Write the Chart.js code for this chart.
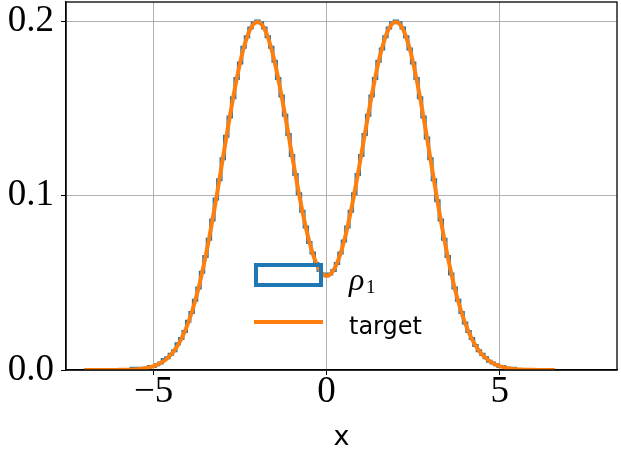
<!DOCTYPE html>
<html>
<head>
<meta charset="utf-8">
<script src="https://cdn.jsdelivr.net/npm/chart.js@4.4.1/dist/chart.umd.min.js"></script>
<style>
  html, body { margin: 0; padding: 0; background: #fff; }
  #wrap { width: 621px; height: 454px; }
</style>
</head>
<body>
<div id="wrap"><canvas id="chart" width="621" height="454"></canvas></div>
<script>
// sample positions along x (bin centres, 0.1 apart)
const xValues = [
  -7.0, -6.9, -6.8, -6.7, -6.6, -6.5, -6.4, -6.3, -6.2, -6.1,
  -6.0, -5.9, -5.8, -5.7, -5.6, -5.5, -5.4, -5.3, -5.2, -5.1,
  -5.0, -4.9, -4.8, -4.7, -4.6, -4.5, -4.4, -4.3, -4.2, -4.1,
  -4.0, -3.9, -3.8, -3.7, -3.6, -3.5, -3.4, -3.3, -3.2, -3.1,
  -3.0, -2.9, -2.8, -2.7, -2.6, -2.5, -2.4, -2.3, -2.2, -2.1,
  -2.0, -1.9, -1.8, -1.7, -1.6, -1.5, -1.4, -1.3, -1.2, -1.1,
  -1.0, -0.9, -0.8, -0.7, -0.6, -0.5, -0.4, -0.3, -0.2, -0.1,
  0.0, 0.1, 0.2, 0.3, 0.4, 0.5, 0.6, 0.7, 0.8, 0.9,
  1.0, 1.1, 1.2, 1.3, 1.4, 1.5, 1.6, 1.7, 1.8, 1.9,
  2.0, 2.1, 2.2, 2.3, 2.4, 2.5, 2.6, 2.7, 2.8, 2.9,
  3.0, 3.1, 3.2, 3.3, 3.4, 3.5, 3.6, 3.7, 3.8, 3.9,
  4.0, 4.1, 4.2, 4.3, 4.4, 4.5, 4.6, 4.7, 4.8, 4.9,
  5.0, 5.1, 5.2, 5.3, 5.4, 5.5, 5.6, 5.7, 5.8, 5.9,
  6.0, 6.1, 6.2, 6.3, 6.4, 6.5, 6.6
];

// target density (orange)
const targetValues = [
  0.0000, 0.0000, 0.0000, 0.0000, 0.0000, 0.0000, 0.0000, 0.0000, 0.0000, 0.0000,
  0.0001, 0.0001, 0.0002, 0.0002, 0.0003, 0.0004, 0.0006, 0.0009, 0.0012, 0.0016,
  0.0022, 0.0030, 0.0040, 0.0052, 0.0068, 0.0088, 0.0112, 0.0142, 0.0177, 0.0220,
  0.0270, 0.0328, 0.0395, 0.0470, 0.0555, 0.0648, 0.0749, 0.0857, 0.0971, 0.1089,
  0.1210, 0.1330, 0.1449, 0.1561, 0.1666, 0.1760, 0.1842, 0.1907, 0.1956, 0.1985,
  0.1995, 0.1986, 0.1957, 0.1909, 0.1844, 0.1765, 0.1672, 0.1570, 0.1460, 0.1347,
  0.1232, 0.1119, 0.1011, 0.0909, 0.0817, 0.0735, 0.0667, 0.0612, 0.0572, 0.0548,
  0.0540, 0.0548, 0.0572, 0.0612, 0.0667, 0.0735, 0.0817, 0.0909, 0.1011, 0.1119,
  0.1232, 0.1347, 0.1460, 0.1570, 0.1672, 0.1765, 0.1844, 0.1909, 0.1957, 0.1986,
  0.1995, 0.1985, 0.1956, 0.1907, 0.1842, 0.1760, 0.1666, 0.1561, 0.1449, 0.1330,
  0.1210, 0.1089, 0.0971, 0.0857, 0.0749, 0.0648, 0.0555, 0.0470, 0.0395, 0.0328,
  0.0270, 0.0220, 0.0177, 0.0142, 0.0112, 0.0088, 0.0068, 0.0052, 0.0040, 0.0030,
  0.0022, 0.0016, 0.0012, 0.0009, 0.0006, 0.0004, 0.0003, 0.0002, 0.0002, 0.0001,
  0.0001, 0.0000, 0.0000, 0.0000, 0.0000, 0.0000, 0.0000
];

// histogram of rho_1 samples (blue steps)
const histValues = [
  0.000, 0.000, 0.000, 0.000, 0.000, 0.000, 0.000, 0.000, 0.000, 0.000,
  0.000, 0.000, 0.000, 0.000, 0.001, 0.001, 0.001, 0.001, 0.001, 0.002,
  0.002, 0.003, 0.004, 0.006, 0.007, 0.009, 0.011, 0.015, 0.018, 0.022,
  0.028, 0.033, 0.040, 0.047, 0.056, 0.065, 0.075, 0.086, 0.098, 0.109,
  0.121, 0.134, 0.145, 0.156, 0.167, 0.176, 0.185, 0.191, 0.196, 0.199,
  0.200, 0.199, 0.196, 0.191, 0.185, 0.177, 0.167, 0.157, 0.146, 0.135,
  0.123, 0.112, 0.101, 0.091, 0.082, 0.073, 0.067, 0.061, 0.057, 0.055,
  0.054, 0.055, 0.057, 0.061, 0.067, 0.074, 0.082, 0.091, 0.101, 0.112,
  0.123, 0.135, 0.146, 0.157, 0.167, 0.177, 0.184, 0.191, 0.196, 0.199,
  0.200, 0.199, 0.196, 0.191, 0.184, 0.176, 0.167, 0.156, 0.145, 0.133,
  0.121, 0.109, 0.097, 0.086, 0.075, 0.065, 0.055, 0.047, 0.040, 0.033,
  0.027, 0.022, 0.018, 0.014, 0.011, 0.009, 0.007, 0.005, 0.004, 0.003,
  0.002, 0.002, 0.001, 0.001, 0.001, 0.000, 0.000, 0.000, 0.000, 0.000,
  0.000, 0.000, 0.000, 0.000, 0.000, 0.000, 0.000
];

const xTicks = [-5, 0, 5];
const yTicks = [0.0, 0.1, 0.2];

const BLUE = '#1f77b4';
const ORANGE = '#ff7f0e';
const tickFont = { family: 'Liberation Serif', size: 37 };

const toPoints = (ys) => xValues.map((x, i) => ({ x, y: ys[i] }));

// full box around the axes like matplotlib
const frame = {
  id: 'frame',
  afterDraw(chart) {
    const { ctx, chartArea: a } = chart;
    ctx.save();
    ctx.strokeStyle = '#000';
    ctx.lineWidth = 1.3;
    ctx.strokeRect(a.left, a.top, a.right - a.left, a.bottom - a.top);
    ctx.restore();
  }
};

// legend drawn inside the axes
const innerLegend = {
  id: 'innerLegend',
  afterDraw(chart) {
    const ctx = chart.ctx;
    ctx.save();
    ctx.strokeStyle = BLUE;
    ctx.lineWidth = 4;
    ctx.strokeRect(256, 265, 65, 20);

    ctx.strokeStyle = ORANGE;
    ctx.lineWidth = 4;
    ctx.beginPath();
    ctx.moveTo(254, 322);
    ctx.lineTo(323, 322);
    ctx.stroke();

    ctx.fillStyle = '#000';
    ctx.textBaseline = 'alphabetic';
    ctx.textAlign = 'left';
    ctx.font = 'italic 32px "Liberation Serif"';
    ctx.fillText('ρ', 349, 290);
    ctx.font = '19px "Liberation Serif"';
    ctx.fillText('1', 366, 293);
    ctx.font = '24px "DejaVu Sans"';
    ctx.fillText('target', 349, 334);
    ctx.restore();
  }
};

new Chart(document.getElementById('chart'), {
  type: 'scatter',
  data: {
    datasets: [
      {
        label: 'ρ1',
        data: toPoints(histValues),
        showLine: true,
        stepped: 'middle',
        borderColor: BLUE,
        borderWidth: 3,
        pointRadius: 0,
        fill: false,
        order: 1
      },
      {
        label: 'target',
        data: toPoints(targetValues),
        showLine: true,
        cubicInterpolationMode: 'monotone',
        borderColor: ORANGE,
        borderWidth: 4,
        pointRadius: 0,
        fill: false,
        order: 0
      }
    ]
  },
  options: {
    responsive: false,
    devicePixelRatio: 1,
    animation: false,
    layout: { padding: { left: 0, right: 4, top: 2, bottom: 0 } },
    plugins: {
      legend: { display: false },
      tooltip: { enabled: false }
    },
    scales: {
      x: {
        type: 'linear',
        min: -7.53,
        max: 8.39,
        afterBuildTicks: (s) => { s.ticks = xTicks.map(v => ({ value: v })); },
        afterFit: (s) => { s.height = 84; s.paddingLeft = 0; s.paddingRight = 0; },
        grid: { color: '#b0b0b0', lineWidth: 1, tickColor: '#000', tickLength: 5 },
        border: { color: '#000', width: 1.3 },
        ticks: {
          color: '#000',
          font: tickFont,
          padding: -5,
          maxRotation: 0,
          callback: (v) => (v < 0 ? '\u2212' + Math.abs(v) : String(v))
        },
        title: {
          display: true,
          text: 'x',
          color: '#000',
          font: { family: 'DejaVu Sans', size: 27 },
          padding: { top: 0, bottom: 0 }
        }
      },
      y: {
        type: 'linear',
        min: 0,
        max: 0.2109,
        afterBuildTicks: (s) => { s.ticks = yTicks.map(v => ({ value: v })); },
        afterFit: (s) => { s.width = 66; s.paddingTop = 0; s.paddingBottom = 0; },
        grid: { color: '#b0b0b0', lineWidth: 1, tickColor: '#000', tickLength: 5 },
        border: { color: '#000', width: 1.3 },
        ticks: {
          color: '#000',
          font: tickFont,
          padding: 7,
          callback: (v) => v.toFixed(1)
        }
      }
    }
  },
  plugins: [frame, innerLegend]
});
</script>
</body>
</html>
